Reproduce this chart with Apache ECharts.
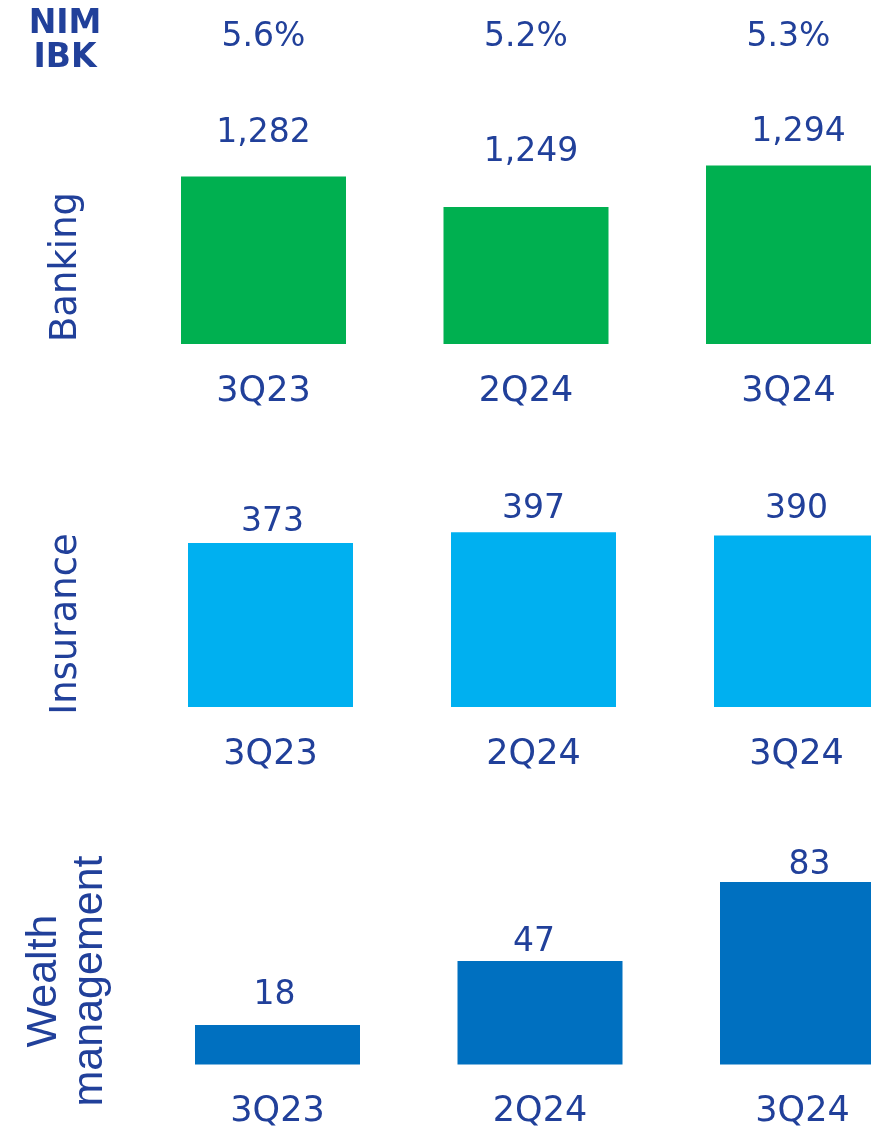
<!DOCTYPE html>
<html>
<head>
<meta charset="utf-8">
<script src="https://cdn.jsdelivr.net/npm/echarts@6.0.0/dist/echarts.min.js"></script>
<style>
  html, body { margin: 0; padding: 0; background: #ffffff; }
  #chart { width: 871px; height: 1132px; }
</style>
</head>
<body>
<div id="chart"></div>
<script>
// Quarterly figures by business line
const quarters = ['3Q23', '2Q24', '3Q24'];
const nimIbk = ['5.6%', '5.2%', '5.3%'];
const banking = [1282, 1249, 1294];
const insurance = [373, 397, 390];
const wealth = [18, 47, 83];

const INK = '#21409a';
const FONT = 'DejaVu Sans';

// Layout of the three stacked panels (pixel boxes, axis ranges, label nudges)
const panels = [
  { title: 'Banking', values: banking, color: '#00b050',
    grid: { left: 132.25, width: 787.5, top: 68, height: 276 }, min: 1100, max: 1400,
    lift: [27, 38, 17], shift: [0, 5, 10], titleX: 66, titleY: 267 },
  { title: 'Insurance', values: insurance, color: '#00b0f0',
    grid: { left: 139, width: 789, top: 531, height: 176 }, min: 0, max: 400,
    lift: [4, 6, 9], shift: [2, 0, 0], titleX: 66, titleY: 624 },
  { title: 'Wealth\nmanagement', values: wealth, color: '#0070c0',
    grid: { left: 146.25, width: 787.5, top: 866.5, height: 198 }, min: 0, max: 90,
    lift: [13, 2, 0], shift: [-3, -6, 7], titleX: 67, titleY: 981 }
];

const fmt = v => v.toLocaleString('en-US');

const grids = [], xAxes = [], yAxes = [], series = [], graphics = [];

panels.forEach((p, i) => {
  grids.push(Object.assign({ containLabel: false, outerBoundsMode: 'none' }, p.grid));
  xAxes.push({
    type: 'category', gridIndex: i, data: quarters,
    axisLine: { show: false }, axisTick: { show: false }, splitLine: { show: false },
    axisLabel: { color: INK, fontFamily: FONT, fontSize: 35, margin: 30 }
  });
  yAxes.push({
    type: 'value', gridIndex: i, min: p.min, max: p.max, show: false,
    splitLine: { show: false }
  });
  series.push({
    type: 'bar', xAxisIndex: i, yAxisIndex: i, barWidth: 165,
    itemStyle: { color: p.color },
    label: {
      show: true, position: 'top', color: INK, fontFamily: FONT, fontSize: 33,
      formatter: params => fmt(params.value)
    },
    data: p.values.map((v, k) => ({
      value: v,
      label: { distance: p.lift[k], offset: [p.shift[k], 0] }
    }))
  });
  const twoLine = p.title.indexOf('\n') >= 0;
  graphics.push({
    type: 'text', x: p.titleX, y: p.titleY, rotation: Math.PI / 2,
    style: {
      text: p.title, fill: INK,
      font: twoLine ? '43px "Liberation Sans"' : '37px "' + FONT + '"',
      lineHeight: twoLine ? 46 : 40,
      align: 'center', verticalAlign: 'middle'
    }
  });
});

// NIM IBK row along the top of the banking panel
xAxes.push({
  type: 'category', gridIndex: 0, position: 'top', data: nimIbk,
  axisLine: { show: false }, axisTick: { show: false }, splitLine: { show: false },
  axisLabel: { color: INK, fontFamily: FONT, fontSize: 33, margin: 14 }
});

graphics.push({
  type: 'text', x: 65, y: 7,
  style: {
    text: 'NIM\nIBK', fill: INK, font: 'bold 33px "' + FONT + '"',
    lineHeight: 34, align: 'center', verticalAlign: 'top'
  }
});

const chart = echarts.init(document.getElementById('chart'), null, { renderer: 'canvas' });
chart.setOption({
  animation: false,
  backgroundColor: '#ffffff',
  grid: grids,
  xAxis: xAxes,
  yAxis: yAxes,
  series: series,
  graphic: graphics
});
</script>
</body>
</html>
